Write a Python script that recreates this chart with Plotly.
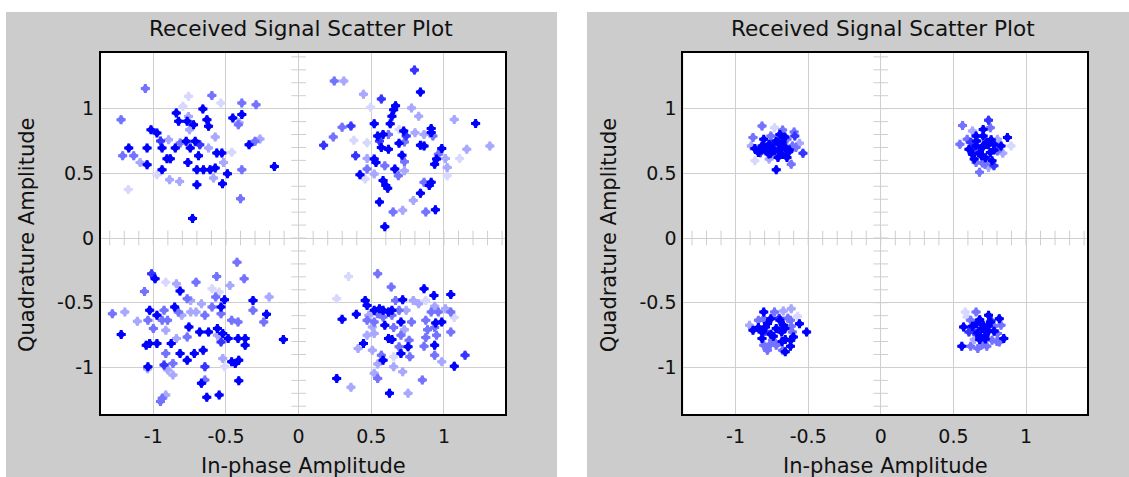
import plotly.graph_objects as go
import numpy as np

W, H = 1129, 477

# ---------------- data ----------------
# shade codes: 0 = darkest blue ... 4 = palest blue
LEFT_I = [
    # quadrant II
    -1.055,-1.222,-1.016,-1.169,-1.211,-1.135,-1.091,-1.043,-1.043,-0.975,-0.940,-0.906,-0.883,-0.940,-0.895,-0.849,-0.815,
    -0.842,-0.826,-0.758,-0.796,-0.758,-0.767,-0.751,-0.774,-0.723,-0.712,-0.746,-0.762,-0.700,-0.700,-0.689,-0.659,-0.597,
    -0.631,-0.620,-0.620,-0.574,-0.563,-0.528,-0.655,-0.609,-0.574,-0.586,-0.535,-0.517,-0.524,-0.490,-0.460,-0.453,-0.415,
    -0.391,-0.391,-0.293,-0.341,-0.300,-0.266,-0.391,-0.167,-0.819,-0.888,-0.975,-1.172,-0.730,-0.400,-0.410,-0.950,-0.680,
    # quadrant I
    0.245,0.311,0.797,0.838,0.446,0.569,0.495,0.667,0.654,0.777,0.826,0.642,0.520,0.630,0.360,0.299,0.723,0.912,0.912,
    0.924,0.863,0.801,0.691,0.618,0.581,0.544,0.740,0.238,0.172,0.380,0.471,0.556,0.569,0.618,0.691,0.728,0.838,0.863,
    0.985,0.961,0.949,1.010,1.071,1.218,1.316,1.157,1.108,0.392,0.471,0.520,0.532,0.711,0.728,0.936,1.022,1.022,0.422,
    0.471,0.458,0.520,0.593,0.662,0.686,0.728,0.581,0.600,0.613,0.556,0.650,0.716,0.789,0.838,0.863,0.899,0.912,0.875,
    0.941,0.593,
    # quadrant III
    -0.424,-1.012,-0.988,-0.914,-0.841,-0.706,-0.564,-0.375,-1.061,-0.816,-0.596,-0.547,-0.473,-0.571,-0.510,-0.314,-0.203,
    -0.767,-0.743,-0.669,-1.282,-1.196,-1.110,-1.025,-1.037,-0.975,-0.926,-0.939,-0.902,-0.853,-0.828,-0.804,-0.743,-0.706,
    -0.645,-0.596,-0.534,-0.534,-0.461,-0.417,-0.314,-0.221,-0.240,-1.221,-1.049,-1.025,-0.975,-0.877,-1.000,-0.914,-0.841,
    -0.755,-0.767,-0.681,-0.620,-0.559,-0.559,-0.522,-0.534,-0.485,-0.417,-0.368,-0.368,-0.105,-0.914,-0.816,-0.767,-0.718,
    -0.657,-0.865,-0.926,-1.037,-1.040,-0.900,-0.645,-0.522,-0.510,-0.461,-0.436,-0.412,-0.865,-0.669,-0.645,-0.412,-0.632,
    -0.547,-0.951,-0.914,-0.939,
    # quadrant IV
    0.343,0.544,0.262,0.637,0.863,0.931,1.047,0.458,0.471,0.667,0.716,0.789,0.826,0.875,0.936,0.520,0.556,0.581,0.642,
    0.618,0.691,0.740,0.397,0.483,0.544,0.912,0.961,1.047,1.071,1.010,0.299,0.471,0.520,0.581,0.642,0.704,0.777,0.875,
    0.943,0.985,0.507,0.593,0.654,0.728,0.887,0.936,1.047,0.471,0.520,0.618,0.642,0.704,0.760,0.875,0.949,0.446,0.409,
    0.507,0.569,0.691,0.704,0.753,0.863,0.936,0.936,1.145,0.581,0.654,0.765,0.544,0.654,0.716,0.985,1.071,0.520,0.544,
    0.262,0.360,0.851,0.625,0.753,
]
LEFT_Q = [
    1.155,0.915,0.837,0.696,0.636,0.636,0.584,0.567,0.696,0.812,0.696,0.613,0.613,0.528,0.760,0.696,0.734,
    0.967,0.902,1.095,1.018,0.940,0.902,0.837,0.747,0.876,0.747,0.696,0.584,0.528,0.412,0.636,0.998,1.101,
    0.915,0.863,0.696,0.781,0.657,0.657,0.528,0.528,0.541,0.464,1.044,0.584,0.420,0.497,0.662,0.928,0.876,
    0.954,1.044,1.031,0.721,0.747,0.765,0.528,0.553,0.437,0.450,0.489,0.375,0.151,0.304,0.890,0.750,0.720,
    1.214,1.214,1.298,1.128,1.112,1.074,1.010,1.023,0.992,1.005,0.941,0.941,0.883,0.883,0.865,0.857,0.827,0.847,0.815,
    0.788,0.801,0.814,0.839,0.801,0.801,0.788,0.788,0.781,0.717,0.755,0.737,0.750,0.699,0.686,0.732,0.742,0.717,0.712,
    0.691,0.648,0.610,0.615,0.916,0.885,0.712,0.686,0.615,0.635,0.615,0.610,0.584,0.640,0.589,0.571,0.546,0.482,0.490,
    0.533,0.457,0.495,0.559,0.533,0.482,0.520,0.444,0.406,0.385,0.278,0.202,0.214,0.291,0.347,0.431,0.406,0.431,0.202,
    0.219,0.087,
    -0.187,-0.277,-0.315,-0.341,-0.354,-0.341,-0.297,-0.315,-0.413,-0.410,-0.392,-0.418,-0.367,-0.456,-0.477,-0.482,-0.456,
    -0.469,-0.482,-0.508,-0.585,-0.572,-0.644,-0.559,-0.636,-0.597,-0.559,-0.636,-0.636,-0.533,-0.572,-0.597,-0.572,-0.572,
    -0.597,-0.533,-0.533,-0.585,-0.636,-0.649,-0.559,-0.590,-0.649,-0.746,-0.828,-0.815,-0.815,-0.815,-0.700,-0.713,-0.777,
    -0.687,-0.764,-0.726,-0.726,-0.700,-0.751,-0.738,-0.803,-0.777,-0.777,-0.777,-0.828,-0.785,-0.892,-0.892,-0.944,-0.892,
    -0.867,-0.969,-0.982,-0.995,-1.010,-1.020,-0.995,-0.931,-0.995,-0.956,-0.969,-0.944,-1.059,-1.123,-1.097,-1.103,-1.231,
    -1.213,-1.264,-1.213,-1.238,
    -0.297,-0.277,-0.469,-0.379,-0.392,-0.444,-0.436,-0.482,-0.521,-0.482,-0.477,-0.482,-0.508,-0.482,-0.528,-0.559,-0.546,
    -0.559,-0.559,-0.572,-0.559,-0.559,-0.590,-0.597,-0.585,-0.572,-0.572,-0.572,-0.615,-0.546,-0.628,-0.636,-0.649,-0.610,
    -0.597,-0.649,-0.649,-0.636,-0.656,-0.649,-0.687,-0.674,-0.692,-0.708,-0.708,-0.692,-0.726,-0.751,-0.738,-0.777,-0.785,
    -0.751,-0.790,-0.769,-0.751,-0.815,-0.854,-0.867,-0.905,-0.841,-0.892,-0.841,-0.836,-0.828,-0.905,-0.905,-0.944,-0.918,
    -0.918,-0.974,-0.995,-1.033,-0.956,-0.990,-1.046,-1.085,-1.085,-1.154,-1.097,-1.200,-1.200,
]
LEFT_SHADE = [
    2,2,0,0,2,2,3,0,0,0,0,0,0,0,3,0,2,
    0,0,4,4,3,0,3,0,0,0,0,0,0,0,0,0,2,
    0,0,3,3,0,0,0,0,0,3,4,3,0,0,4,0,2,
    0,2,2,0,2,3,2,0,3,3,4,4,0,2,3,1,1,
    2,3,1,0,3,1,4,0,0,3,3,0,0,0,1,2,0,0,0,
    2,3,3,4,2,0,0,1,2,1,4,4,1,0,0,0,2,0,0,
    0,2,0,3,3,0,3,3,4,1,3,0,0,0,2,0,3,4,0,
    2,4,3,2,0,2,3,0,0,0,0,2,3,3,0,2,0,0,2,
    0,0,
    2,1,0,4,3,2,2,2,2,0,4,4,3,2,0,0,3,
    2,3,3,2,3,3,0,2,0,2,2,2,0,2,3,3,3,
    2,2,0,2,2,2,2,0,2,0,0,0,0,0,2,3,3,
    0,2,0,0,0,3,0,1,0,0,0,0,0,2,0,0,0,
    0,2,1,0,3,3,1,3,4,0,0,0,3,0,2,0,0,
    0,2,3,2,
    4,2,4,2,0,0,0,0,0,2,0,3,3,4,3,0,0,
    0,0,0,2,3,0,3,2,2,2,2,4,3,0,2,2,2,
    2,0,2,2,0,0,3,0,2,3,2,2,2,3,3,0,0,
    2,2,2,2,0,3,3,2,2,0,0,2,0,2,1,0,4,
    2,3,3,3,3,0,3,2,0,3,2,0,3,
]

RIGHT_I = [
    # quadrant II
    -0.818,-0.732,-0.676,-0.597,-0.880,-0.806,-0.757,-0.695,-0.646,-0.592,-0.560,-0.867,-0.818,-0.769,-0.708,-0.671,
    -0.609,-0.892,-0.843,-0.781,-0.732,-0.683,-0.634,-0.536,-0.867,-0.769,-0.708,-0.646,-0.617,-0.720,-0.757,-0.818,
    -0.660,-0.585,-0.790,-0.740,-0.700,-0.660,-0.720,-0.770,-0.680,-0.630,-0.830,-0.750,
    # quadrant I
    0.563,0.742,0.631,0.705,0.754,0.545,0.595,0.656,0.705,0.872,0.803,0.779,0.828,0.897,0.607,0.656,0.705,0.631,
    0.693,0.754,0.803,0.840,0.656,0.717,0.766,0.779,0.680,0.742,0.643,0.730,0.660,0.700,0.740,0.680,0.720,0.780,
    0.640,0.760,0.700,0.620,
    # quadrant III
    -0.617,-0.806,-0.732,-0.671,-0.573,-0.843,-0.806,-0.757,-0.695,-0.622,-0.904,-0.843,-0.794,-0.671,-0.617,-0.560,
    -0.880,-0.818,-0.757,-0.683,-0.609,-0.511,-0.818,-0.745,-0.658,-0.602,-0.806,-0.720,-0.622,-0.676,-0.658,-0.781,
    -0.780,-0.720,-0.660,-0.740,-0.680,-0.800,-0.620,-0.700,-0.760,-0.640,
    # quadrant IV
    0.582,0.656,0.742,0.816,0.619,0.681,0.754,0.570,0.631,0.705,0.779,0.828,0.607,0.668,0.742,0.803,0.847,0.644,
    0.681,0.766,0.816,0.558,0.619,0.668,0.730,0.594,0.717,0.660,0.700,0.740,0.680,0.720,0.780,0.640,0.760,0.700,
    0.800,
]
RIGHT_Q = [
    0.865,0.852,0.834,0.819,0.776,0.763,0.788,0.801,0.763,0.788,0.732,0.691,0.712,0.724,0.737,0.712,
    0.712,0.712,0.661,0.666,0.673,0.648,0.666,0.656,0.597,0.610,0.622,0.622,0.571,0.528,0.655,0.690,
    0.780,0.700,0.700,0.690,0.680,0.700,0.750,0.650,0.740,0.680,0.660,0.720,
    0.870,0.911,0.827,0.839,0.852,0.724,0.763,0.788,0.788,0.776,0.763,0.724,0.712,0.712,0.686,0.712,0.712,0.648,
    0.635,0.661,0.673,0.656,0.584,0.571,0.597,0.559,0.508,0.546,0.610,0.740,0.750,0.700,0.720,0.660,0.620,0.680,
    0.700,0.760,0.580,0.740,
    -0.546,-0.572,-0.572,-0.564,-0.605,-0.636,-0.623,-0.623,-0.636,-0.636,-0.674,-0.692,-0.687,-0.674,-0.682,-0.662,
    -0.713,-0.726,-0.744,-0.726,-0.726,-0.726,-0.777,-0.790,-0.785,-0.764,-0.828,-0.828,-0.836,-0.867,-0.879,-0.867,
    -0.660,-0.700,-0.700,-0.760,-0.800,-0.720,-0.790,-0.620,-0.820,-0.620,
    -0.572,-0.572,-0.597,-0.623,-0.636,-0.631,-0.649,-0.687,-0.682,-0.674,-0.682,-0.674,-0.726,-0.733,-0.718,-0.738,
    -0.777,-0.785,-0.785,-0.790,-0.803,-0.836,-0.836,-0.854,-0.836,-0.610,-0.760,-0.660,-0.700,-0.680,-0.760,-0.780,
    -0.720,-0.720,-0.640,-0.820,-0.800,
]
RIGHT_SHADE = [
    2,4,2,2,2,0,2,0,2,1,3,0,0,0,0,0,
    2,3,0,0,0,0,0,1,4,3,0,0,2,0,0,0,
    0,2,0,0,0,0,0,0,0,0,1,1,
    2,1,3,0,2,2,2,0,0,0,3,0,0,4,0,0,0,0,
    0,0,2,3,2,2,0,1,2,3,0,0,0,0,0,0,0,0,
    1,0,2,1,
    3,0,2,3,4,2,2,0,0,2,3,0,0,0,2,0,
    0,0,0,0,2,0,0,2,0,0,2,2,0,2,0,2,
    0,0,0,0,0,1,0,1,2,2,
    4,2,0,0,2,0,0,0,0,0,2,2,1,0,0,2,
    0,3,0,2,2,0,2,2,2,4,0,0,0,0,0,0,
    0,1,1,2,2,
]

SHADE_COLORS = ["#0000FF", "#3535FF", "#7373FF", "#A8A8FF", "#D8D8FF"]

TICK_VALS = [-1, -0.5, 0, 0.5, 1]
TICK_TEXT = ["-1", "-0.5", "0", "0.5", "1"]
MINOR_TICKS = np.round(np.arange(-1.3, 1.41, 0.1), 2)

TITLE = "Received Signal Scatter Plot"
XLABEL = "In-phase Amplitude"
YLABEL = "Quadrature Amplitude"

# ---------------- layout geometry (pixels) ----------------
BOX_L = (101, 505)
BOX_R = (683.3, 1087)
BOX_TOP, BOX_BOT = 53, 414
PANEL_L = (6, 557)
PANEL_R = (587, 1129)
PANEL_TOP = 12
XR = [-1.36, 1.42]
YR = [-1.36, 1.43]
FONT = "DejaVu Sans"
GRAY = "#CCCCCC"
GRID = "#CFCFCF"

def px(x):
    return x / W

def py(y):
    return 1 - y / H

fig = go.Figure()

panels = [("x", "y", LEFT_I, LEFT_Q, LEFT_SHADE), ("x2", "y2", RIGHT_I, RIGHT_Q, RIGHT_SHADE)]
for xa, ya, I, Q, S in panels:
    # centre crosshair ticks
    fig.add_trace(go.Scatter(x=[0] * len(MINOR_TICKS), y=MINOR_TICKS, xaxis=xa, yaxis=ya, mode="markers",
                             marker=dict(symbol="line-ew", size=10.5, line=dict(color=GRID, width=1)),
                             hoverinfo="skip", showlegend=False))
    fig.add_trace(go.Scatter(x=MINOR_TICKS, y=[0] * len(MINOR_TICKS), xaxis=xa, yaxis=ya, mode="markers",
                             marker=dict(symbol="line-ns", size=10.5, line=dict(color=GRID, width=1)),
                             hoverinfo="skip", showlegend=False))
    I = np.array(I); Q = np.array(Q); S = np.array(S)
    for lvl in [4, 3, 2, 1, 0]:
        m = S == lvl
        for sym, sz in [("diamond", 7.0), ("cross", 7.5)]:
            fig.add_trace(go.Scatter(x=I[m], y=Q[m], xaxis=xa, yaxis=ya, mode="markers",
                                     marker=dict(symbol=sym, size=sz, color=SHADE_COLORS[lvl],
                                                 line=dict(width=0)),
                                     showlegend=False))

axis_common = dict(tickmode="array", tickvals=TICK_VALS, ticktext=TICK_TEXT,
                   showgrid=True, gridcolor=GRID, gridwidth=1,
                   zeroline=True, zerolinecolor=GRID, zerolinewidth=1,
                   showline=True, linecolor="black", linewidth=2, mirror=True,
                   ticks="", tickfont=dict(family=FONT, size=19, color="#111111"))

fig.update_layout(
    width=W, height=H,
    margin=dict(l=0, r=0, t=0, b=0),
    paper_bgcolor="white",
    plot_bgcolor="white",
    xaxis=dict(domain=[px(BOX_L[0]), px(BOX_L[1])], range=XR, anchor="y", ticklabelstandoff=4, **axis_common),
    yaxis=dict(domain=[py(BOX_BOT), py(BOX_TOP)], range=YR, anchor="x", ticklabelstandoff=1, **axis_common),
    xaxis2=dict(domain=[px(BOX_R[0]), px(BOX_R[1])], range=XR, anchor="y2", ticklabelstandoff=4, **axis_common),
    yaxis2=dict(domain=[py(BOX_BOT), py(BOX_TOP)], range=YR, anchor="x2", ticklabelstandoff=1, **axis_common),
)

shapes = []
for (a, b) in [PANEL_L, PANEL_R]:
    shapes.append(dict(type="rect", xref="paper", yref="paper", x0=px(a), x1=px(b), y0=0, y1=py(PANEL_TOP),
                       fillcolor=GRAY, line=dict(width=0), layer="below"))
for (a, b) in [BOX_L, BOX_R]:
    shapes.append(dict(type="rect", xref="paper", yref="paper", x0=px(a), x1=px(b), y0=py(BOX_BOT), y1=py(BOX_TOP),
                       fillcolor="white", line=dict(width=0), layer="below"))
fig.update_layout(shapes=shapes)

ann = []
for (a, b) in [BOX_L, BOX_R]:
    cx = (a + b) / 2
    ann.append(dict(text=TITLE, x=px(cx - 2), y=py(28), xref="paper", yref="paper", showarrow=False,
                    xanchor="center", yanchor="middle", font=dict(family=FONT, size=21.6, color="#111111")))
    ann.append(dict(text=XLABEL, x=px(cx), y=py(466), xref="paper", yref="paper", showarrow=False,
                    xanchor="center", yanchor="middle", font=dict(family=FONT, size=21, color="#111111")))
    ann.append(dict(text=YLABEL, x=px(a - 74), y=py(235), xref="paper", yref="paper", showarrow=False,
                    textangle=-90, xanchor="center", yanchor="middle",
                    font=dict(family=FONT, size=21, color="#111111")))
fig.update_layout(annotations=ann)

fig.write_html("out.html", config={"displayModeBar": False},
               post_script="document.body.style.margin='0px';")
